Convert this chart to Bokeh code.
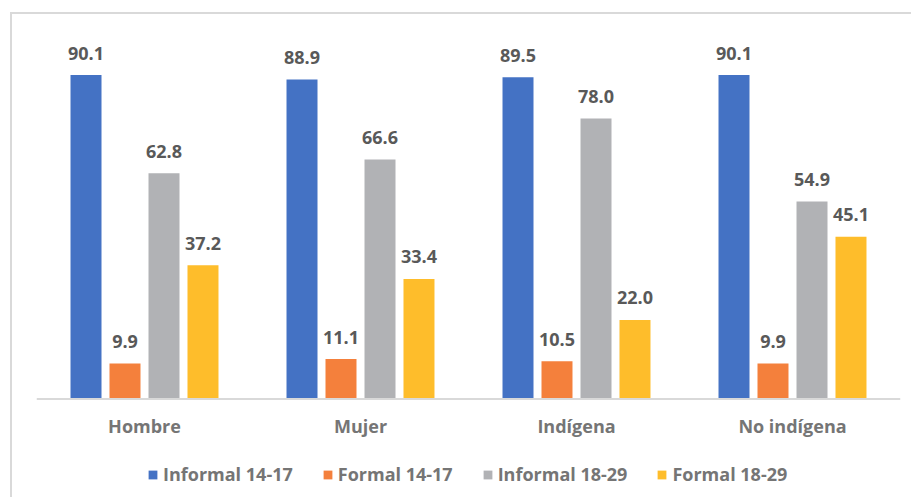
from bokeh.plotting import figure
from bokeh.models import ColumnDataSource, FactorRange, Legend, LegendItem, Span
from bokeh.transform import dodge
from bokeh.core.properties import value
from bokeh.embed import file_html
from bokeh.resources import INLINE

# Población ocupada joven por tipo de empleo (%)
categories = ["Hombre", "Mujer", "Indígena", "No indígena"]
series_names = ["Informal 14-17", "Formal 14-17", "Informal 18-29", "Formal 18-29"]
informal_14_17 = [90.1, 88.9, 89.5, 90.1]
formal_14_17 = [9.9, 11.1, 10.5, 9.9]
informal_18_29 = [62.8, 66.6, 78.0, 54.9]
formal_18_29 = [37.2, 33.4, 22.0, 45.1]

series_values = [informal_14_17, formal_14_17, informal_18_29, formal_18_29]
colors = ["#4472C4", "#F4803C", "#B1B2B5", "#FEBD2B"]
offsets = [-0.2708, -0.0903, 0.0903, 0.2708]
bar_width = 0.1435

FONT = "Open Sans"

# The frame runs to the bottom of the canvas; the area below zero holds
# the category names and the legend.
p = figure(
    x_range=FactorRange(factors=categories),
    y_range=(-27.96, 106.95),
    width=901, height=485,
    output_backend="svg", toolbar_location=None,
    min_border_left=24, min_border_right=13,
    min_border_top=0, min_border_bottom=0,
    margin=(12, 0, 0, 10),
    styles={"border-top": "2px solid #d9d9d9", "border-left": "2px solid #d9d9d9"},
)

source = ColumnDataSource(dict(
    cat=categories,
    **{f"s{i}": vals for i, vals in enumerate(series_values)},
    **{f"t{i}": [f"{v:.1f}" for v in vals] for i, vals in enumerate(series_values)},
))

items = []
for i, (name, color, off) in enumerate(zip(series_names, colors, offsets)):
    x = dodge("cat", off, range=p.x_range)
    r = p.vbar(x=x, top=f"s{i}", bottom=0, width=bar_width, source=source,
               fill_color=color, line_color=None)
    p.text(x=x, y=f"s{i}", text=f"t{i}", source=source,
           y_offset=-22, text_align="center", text_baseline="middle",
           text_font=value(FONT), text_font_style="bold",
           text_font_size="18px", text_color="#595959")
    items.append(LegendItem(label=name, renderers=[r]))

# Baseline and category names
p.add_layout(Span(location=0, dimension="width", line_color="#d9d9d9", line_width=2))
p.text(x="cat", y=0, text="cat", source=source,
       y_offset=27, text_align="center", text_baseline="middle",
       text_font=value(FONT), text_font_style="bold",
       text_font_size="18px", text_color="#757575")

p.xaxis.visible = False
p.yaxis.visible = False
p.xgrid.visible = False
p.ygrid.visible = False
p.outline_line_color = None

legend = Legend(
    items=items, orientation="horizontal", location=(111, 13),
    glyph_width=11, glyph_height=11, label_standoff=5, spacing=29,
    label_height=20,
    label_text_font=FONT, label_text_font_style="bold",
    label_text_font_size="18px", label_text_color="#757575",
    border_line_color=None, background_fill_alpha=0,
    padding=0, margin=0,
)
p.add_layout(legend)

open("out.html", "w").write(file_html(p, INLINE))
